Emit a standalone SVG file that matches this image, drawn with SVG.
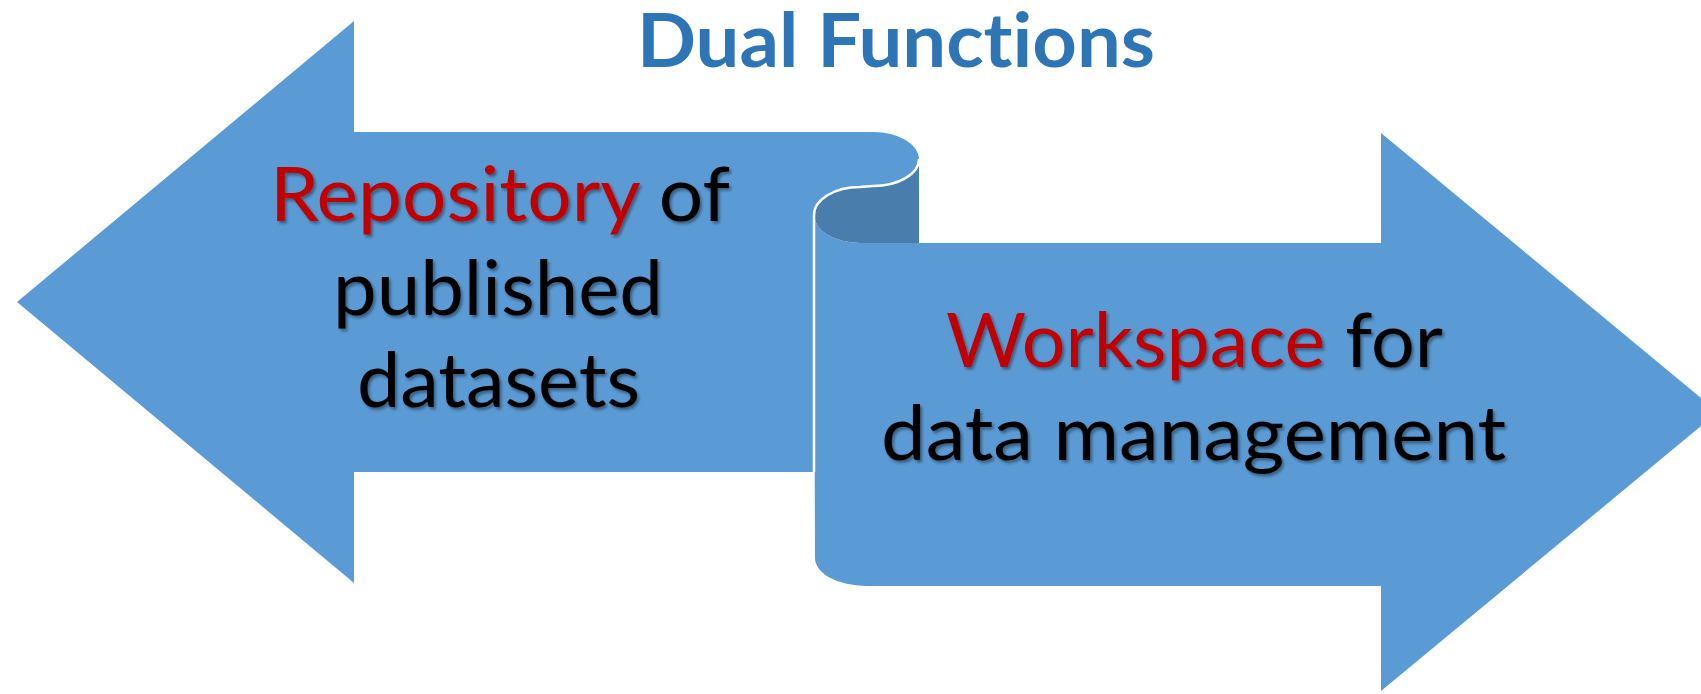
<svg xmlns="http://www.w3.org/2000/svg" width="1701" height="694" viewBox="0 0 1701 694">
  <defs>
    <filter id="shadow" x="-5%" y="-20%" width="110%" height="140%">
      <feDropShadow dx="2" dy="2.5" stdDeviation="1.5" flood-color="#000" flood-opacity="0.4"/>
    </filter>
    <style>
      .blue { fill: #5B9BD5; }
      .dark { fill: #487DAC; }
      .edge { fill: none; stroke: #FFFFFF; stroke-width: 2.5; }
      .body { font-family: Lato, "Open Sans", "Liberation Sans", sans-serif; font-size: 76px; fill: #000000; filter: url(#shadow); font-variant-ligatures: none; }
      .red { fill: #C00000; }
      .title { font-family: Lato, "Open Sans", "Liberation Sans", sans-serif; font-size: 75px; font-weight: bold; fill: #2E75B6; font-variant-ligatures: none; }
    </style>
  </defs>
  <rect width="1701" height="694" fill="#FFFFFF"/>

  <g id="title">
    <text class="title" x="637" y="67" textLength="518" lengthAdjust="spacingAndGlyphs">Dual Functions</text>
  </g>

  <g id="right-arrow">
    <path class="blue" d="M814,215 A46,28 0 0 0 860,243 L1381,243 L1381,133 L1718,412 L1381,691 L1381,586 L866,586 A51,28 0 0 1 815,558 Z"/>
    <path class="dark" d="M919,159 A46,27 0 0 1 873,186 L860,187 A46,28 0 0 0 814,215 A46,28 0 0 0 860,243 L919,243 Z"/>
    <text class="body" x="946" y="367" textLength="497" lengthAdjust="spacingAndGlyphs"><tspan class="red">Workspace</tspan> for</text>
    <text class="body" x="881" y="460" textLength="625" lengthAdjust="spacingAndGlyphs">data management</text>
  </g>

  <g id="left-arrow">
    <path class="blue" d="M17,302 L354,21 L354,132 L873,132 A46,27 0 0 1 919,159 A46,27 0 0 1 873,186 L860,187 A46,28 0 0 0 814,215 L814,472 L354,472 L354,583 Z"/>
    <text class="body" x="270" y="221" textLength="460" lengthAdjust="spacingAndGlyphs"><tspan class="red">Repository</tspan> of</text>
    <text class="body" x="333" y="315" textLength="330" lengthAdjust="spacingAndGlyphs">published</text>
    <text class="body" x="357" y="407" textLength="283" lengthAdjust="spacingAndGlyphs">datasets</text>
  </g>

  <g id="connectors">
    <path class="edge" d="M919,159 A46,27 0 0 1 873,186 L860,187 A46,28 0 0 0 814,215 L814,472"/>
  </g>
</svg>
